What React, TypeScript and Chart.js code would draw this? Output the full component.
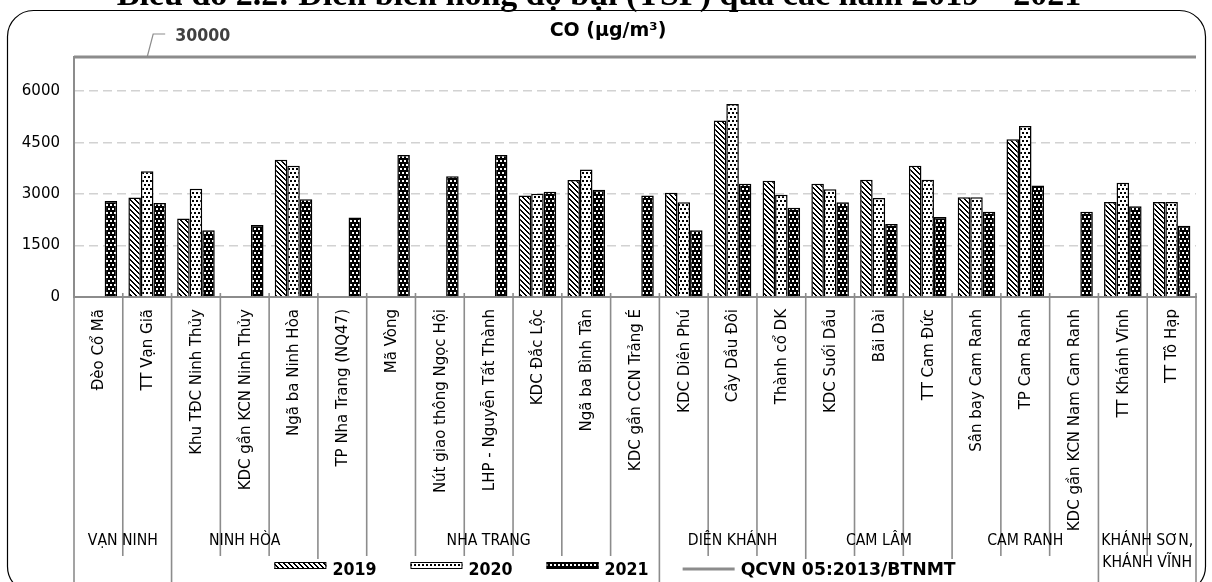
import React, { useEffect, useRef } from 'react';
import { Chart, registerables } from 'chart.js';

Chart.register(...registerables);

const W = 1212;
const H = 582;

const HEADING = 'Biểu đồ 2.2: Diễn biến nồng độ bụi (TSP) qua các năm 2019 – 2021';
const CHART_TITLE = 'CO (µg/m³)';

const STATIONS = [
  'Đèo Cổ Mã',
  'TT Vạn Giã',
  'Khu TĐC Ninh Thủy',
  'KDC gần KCN Ninh Thủy',
  'Ngã ba Ninh Hòa',
  'TP Nha Trang (NQ47)',
  'Mã Vòng',
  'Nút giao thông Ngọc Hội',
  'LHP - Nguyễn Tất Thành',
  'KDC Đắc Lộc',
  'Ngã ba Bình Tân',
  'KDC gần CCN Trảng É',
  'KDC Diên Phú',
  'Cây Dầu Đôi',
  'Thành cổ DK',
  'KDC Suối Dầu',
  'Bãi Dài',
  'TT Cam Đức',
  'Sân bay Cam Ranh',
  'TP Cam Ranh',
  'KDC gần KCN Nam Cam Ranh',
  'TT Khánh Vĩnh',
  'TT Tô Hạp',
];

const DISTRICTS = ['VẠN NINH', 'NINH HÒA', 'NHA TRANG', 'DIÊN KHÁNH', 'CAM LÂM', 'CAM RANH', 'KHÁNH SƠN,\nKHÁNH VĨNH'];
const DISTRICT_SIZES = [2, 3, 7, 3, 3, 3, 2];

const SERIES_LABELS = ['2019', '2020', '2021'];
const V2019 = [null, 2900, 2290, null, 4000, null, null, null, null, 2960, 3410, null, 3040, 5150, 3390, 3300, 3420, 3830, 2910, 4600, null, 2770, 2770];
const V2020 = [null, 3670, 3160, null, 3830, null, null, null, null, 3010, 3720, null, 2760, 5630, 2980, 3140, 2890, 3420, 2910, 4990, null, 3330, 2770];
const V2021 = [2800, 2740, 1950, 2100, 2850, 2320, 4140, 3520, 4140, 3070, 3130, 2960, 1950, 3300, 2600, 2760, 2130, 2330, 2490, 3250, 2490, 2650, 2080];

const QCVN = 30000;
const QCVN_LABEL = 'QCVN 05:2013/BTNMT';
const QCVN_LABEL_INDEX = 1;

const Y_TICKS = [0, 1500, 3000, 4500, 6000];
const Y_MAX = 7000;

const FONT = '"DejaVu Sans", Verdana, sans-serif';

type TxtOpts = {
  font: string;
  color?: string;
  align?: CanvasTextAlign;
  baseline?: CanvasTextBaseline;
  sx?: number;
  rot?: number;
};

function txt(ctx: CanvasRenderingContext2D, s: string, x: number, y: number, o: TxtOpts) {
  ctx.save();
  ctx.translate(x, y);
  ctx.scale(o.sx ?? 1, 1);
  if (o.rot) ctx.rotate(o.rot);
  ctx.font = o.font;
  ctx.fillStyle = o.color ?? '#000';
  ctx.textAlign = o.align ?? 'left';
  ctx.textBaseline = o.baseline ?? 'alphabetic';
  ctx.fillText(s, 0, 0);
  ctx.restore();
}

function tile(ctx: CanvasRenderingContext2D, w: number, h: number, dark: (x: number, y: number) => boolean) {
  const c = document.createElement('canvas');
  c.width = w;
  c.height = h;
  const g = c.getContext('2d')!;
  const img = g.createImageData(w, h);
  for (let yy = 0; yy < h; yy++) {
    for (let xx = 0; xx < w; xx++) {
      const i = (yy * w + xx) * 4;
      const v = dark(xx, yy) ? 0 : 255;
      img.data[i] = v;
      img.data[i + 1] = v;
      img.data[i + 2] = v;
      img.data[i + 3] = 255;
    }
  }
  g.putImageData(img, 0, 0);
  return ctx.createPattern(c, 'repeat')!;
}

function makePatterns(ctx: CanvasRenderingContext2D) {
  const dot = (x: number, y: number) => (x < 2 && y < 2) || (x >= 2 && y >= 4 && y < 6);
  return [
    tile(ctx, 5, 5, (x, y) => (x - y + 10) % 5 < 2),
    tile(ctx, 4, 8, (x, y) => dot(x, y)),
    tile(ctx, 4, 8, (x, y) => !dot(x, y)),
  ];
}

function decorPlugin(patterns: CanvasPattern[]) {
  return {
    id: 'decor',
    afterDraw(chart: any) {
      const { ctx, chartArea, scales } = chart;
      const { left, right, bottom } = chartArea;
      const xs = scales.x;
      const ys = scales.y;
      const n = STATIONS.length;

      // category boundaries
      const bounds: number[] = [];
      for (let i = 0; i <= n; i++) {
        if (i === 0) bounds.push(left);
        else if (i === n) bounds.push(right);
        else bounds.push((xs.getPixelForValue(i - 1) + xs.getPixelForValue(i)) / 2);
      }
      const groupEdges = new Set<number>([0]);
      let acc = 0;
      DISTRICT_SIZES.forEach((s) => {
        acc += s;
        groupEdges.add(acc);
      });

      // separators
      ctx.save();
      ctx.strokeStyle = '#8c8c8c';
      ctx.lineWidth = 1.6;
      for (let i = 0; i <= n; i++) {
        const isGroup = groupEdges.has(i);
        ctx.beginPath();
        ctx.moveTo(bounds[i], i === 0 ? bottom : bottom - 4);
        ctx.lineTo(bounds[i], isGroup ? H : 556);
        ctx.stroke();
      }
      ctx.restore();

      // category labels (rotated)
      for (let i = 0; i < n; i++) {
        const cx = xs.getPixelForValue(i);
        txt(ctx, STATIONS[i], cx + 1, bottom + 12, {
          font: `15px ${FONT}`,
          align: 'right',
          baseline: 'middle',
          rot: -Math.PI / 2,
        });
      }

      // group labels
      let start = 0;
      DISTRICTS.forEach((d, gi) => {
        const end = start + DISTRICT_SIZES[gi];
        const cx = (bounds[start] + bounds[end]) / 2;
        const lines = d.split('\n');
        lines.forEach((ln, li) => {
          txt(ctx, ln, cx, 541 + li * 22, {
            font: `16px ${FONT}`,
            align: 'center',
            baseline: 'middle',
            sx: 0.88,
          });
        });
        start = end;
      });

      // QCVN line (clipped at plot top like the original)
      const yq = ys.getPixelForValue(Math.min(QCVN, ys.max));
      ctx.save();
      ctx.strokeStyle = '#8c8c8c';
      ctx.lineWidth = 3;
      ctx.beginPath();
      ctx.moveTo(left, yq);
      ctx.lineTo(right, yq);
      ctx.stroke();
      const px = xs.getPixelForValue(QCVN_LABEL_INDEX);
      ctx.lineWidth = 1.2;
      ctx.beginPath();
      ctx.moveTo(px, yq);
      ctx.lineTo(px + 6, yq - 23);
      ctx.lineTo(px + 18, yq - 23);
      ctx.stroke();
      ctx.restore();
      txt(ctx, String(QCVN), px + 28, yq - 21, {
        font: `bold 18px ${FONT}`,
        color: '#404040',
        baseline: 'middle',
        sx: 0.88,
      });

      // chart title
      txt(ctx, CHART_TITLE, 608, 31, {
        font: `bold 19px ${FONT}`,
        align: 'center',
        baseline: 'middle',
        sx: 1,
      });

      // legend
      const lf = `bold 18px ${FONT}`;
      ctx.save();
      ctx.font = lf;
      const items = [
        ...SERIES_LABELS.map((l, i) => ({ label: l, kind: 'box', pat: patterns[i] as any, sx: 0.88 })),
        { label: QCVN_LABEL, kind: 'line', pat: null as any, sx: 0.96 },
      ];
      const boxW = 52;
      const gapBT = 6;
      const gapItem = 34;
      const widths = items.map((it) => ctx.measureText(it.label).width * it.sx);
      ctx.restore();
      let total = 0;
      items.forEach((_, i) => {
        total += boxW + gapBT + widths[i] + (i < items.length - 1 ? gapItem : 0);
      });
      let lx = 615 - total / 2;
      const ly = 569;
      items.forEach((it, i) => {
        ctx.save();
        ctx.fillStyle = '#fff';
        ctx.fillRect(lx - 2, ly - 10, boxW + gapBT + widths[i] + 4, H - (ly - 10));
        if (it.kind === 'box') {
          ctx.fillStyle = it.pat;
          ctx.fillRect(lx, ly - 7, boxW, 7);
          ctx.strokeStyle = '#000';
          ctx.lineWidth = 1;
          ctx.strokeRect(lx + 0.5, ly - 6.5, boxW - 1, 6);
        } else {
          ctx.strokeStyle = '#8c8c8c';
          ctx.lineWidth = 3;
          ctx.beginPath();
          ctx.moveTo(lx, ly);
          ctx.lineTo(lx + boxW, ly);
          ctx.stroke();
        }
        ctx.restore();
        txt(ctx, it.label, lx + boxW + gapBT, ly + 6, { font: lf, sx: it.sx });
        lx += boxW + gapBT + widths[i] + gapItem;
      });

      // page heading (cut off at top, as in the original)
      txt(ctx, HEADING, 599, 4.5, {
        font: `bold 34px "Liberation Serif", "Times New Roman", serif`,
        align: 'center',
      });

      // rounded frame
      ctx.save();
      ctx.strokeStyle = '#000';
      ctx.lineWidth = 1.2;
      ctx.beginPath();
      (ctx as any).roundRect(7.5, 10.5, 1198, 582, 26);
      ctx.stroke();
      ctx.restore();
    },
  };
}

export default function App() {
  const ref = useRef<HTMLCanvasElement>(null);

  useEffect(() => {
    const canvas = ref.current!;
    const ctx = canvas.getContext('2d')!;
    const patterns = makePatterns(ctx);
    const datasets = [V2019, V2020, V2021].map((d, i) => ({
      label: SERIES_LABELS[i],
      data: d,
      backgroundColor: patterns[i],
      borderColor: '#000',
      borderWidth: 1.5,
      categoryPercentage: 0.77,
      barPercentage: 1,
    }));
    const chart = new Chart(canvas, {
      type: 'bar',
      data: { labels: STATIONS, datasets },
      options: {
        responsive: false,
        animation: false,
        devicePixelRatio: 1,
        layout: { padding: { top: 57, right: 16, left: 0, bottom: 0 } },
        plugins: {
          legend: { display: false },
          title: { display: false },
          tooltip: { enabled: false },
        },
        scales: {
          x: {
            grid: { display: false },
            ticks: { display: false },
            border: { display: true, color: '#8c8c8c', width: 2 },
            afterFit: (s: any) => {
              s.height = 285;
            },
          },
          y: {
            min: 0,
            max: Y_MAX,
            afterBuildTicks: (s: any) => {
              s.ticks = Y_TICKS.map((v) => ({ value: v }));
            },
            grid: { color: '#d2d2d2', lineWidth: 1.6, drawTicks: false },
            border: { display: true, color: '#8c8c8c', width: 2, dash: [9, 5] },
            ticks: {
              font: { family: 'DejaVu Sans', size: 15 },
              color: '#000',
              padding: 14,
              callback: (v: any) => String(v),
            },
            afterFit: (s: any) => {
              s.width = 74;
            },
          },
        },
      } as any,
      plugins: [decorPlugin(patterns)],
    });
    return () => chart.destroy();
  }, []);

  return (
    <div
      style={{
        position: 'absolute',
        left: 0,
        top: 0,
        width: W,
        height: H,
        overflow: 'hidden',
        background: '#fff',
      }}
    >
      <canvas ref={ref} width={W} height={H} style={{ display: 'block', width: W, height: H }} />
    </div>
  );
}
